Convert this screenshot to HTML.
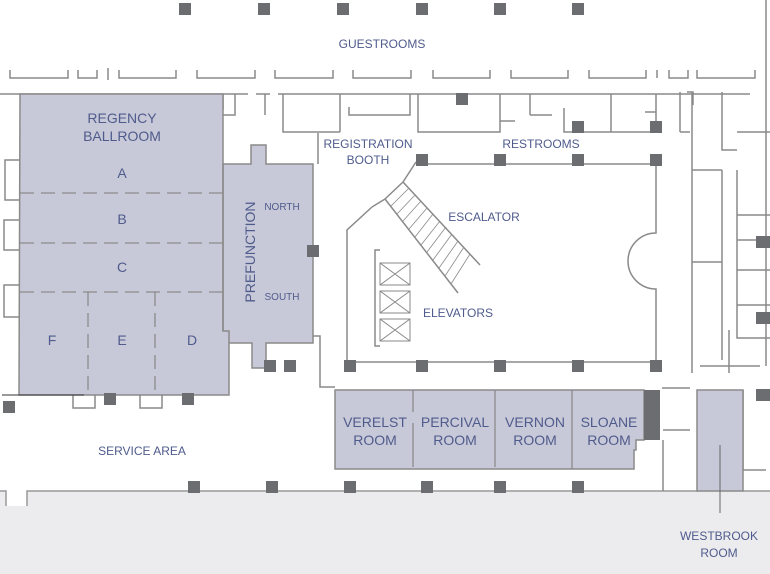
<!DOCTYPE html>
<html><head><style>
html,body{margin:0;padding:0;background:#fff;}
svg{display:block;}
text{font-family:"Liberation Sans",sans-serif;fill:#4f5b8c;}
</style></head><body>
<svg width="770" height="574" viewBox="0 0 770 574" xmlns="http://www.w3.org/2000/svg">
<path d="M0,491 H6 V506 H27 V491 H770 V574 H0 Z" fill="#ececee"/>
<path d="M0,491 H6 V506 M27,506 V491 H698 M743,491 H770" fill="none" stroke="#999" stroke-width="1.5"/>
<g fill="none" stroke="#8a8a8a" stroke-width="1.5">
<path d="M10,70 V78 H68 V70 M78,70 V78 H97 V70 M108,68 V80 M119,70 V78 H176 V70 M197,70 V78 H255 V70 M275,70 V78 H333 V70 M353,70 V78 H411 V70 M433,70 V78 H490 V70 M511,70 V78 H568 V70 M589,70 V78 H646 V70 M657,70 V78 M669,70 V78 H688 V70 M697,70 V78 H755 V70"/>
<path d="M0,94 H248 M256,94 H270 M278,94 H750"/>
<path d="M223,94 V110 M235,94 V115 H223 M265,94 V115 M283,94 V132 H340 M340,94 V132 M349,107 V115 H410 V94"/>
<path d="M418,94 V132 H500 V94 M500,100 V132 M500,121 H515 M530,94 V115 M530,115 H552 M564,108 V132 H656 V94 M611,94 V132 M645,112 H656"/>
<path d="M680,92 V132 M680,132 H690 M687,92 H693 V105 M692,92 V132 M722,92 V150 H737 M737,132 H770 M692,132 V200 M692,170 V366 M692,170 H722 V170 M722,170 V360 M692,262 H722 M722,200 V235 M737,170 V330 M737,215 H770 M737,240 H770 M737,270 H770 M737,305 H770 M737,330 V338 H770 M700,366 H760 M766,0 V366 M692,330 V373 M729,330 V373"/>
<path d="M318,133 V164 M256,160 V164"/>
<path d="M420,164 H656 V233 A28,28 0 0 0 656,289 V362 H347 V230 L372,207 M416,162 L403,182 M313,336 H320 V387 H335"/>
<path d="M656,362 V366"/>
<path d="M403,182 L480,265 M372,207 L385,199 M385,199 L458,293 M403,182 L385,199"/>
<g stroke-width="0.8">
<path d="M409,188 L391,206 M415,195 L397,214 M421,201 L403,221 M427,208 L409,229 M433,214 L415,237 M440,221 L421,245 M446,227 L427,252 M452,234 L433,260 M458,241 L439,268 M464,247 L445,276 M470,254 L451,284"/>
</g>
<path d="M380,250 H375 V346 H380"/>
<g stroke-width="1">
<rect x="380" y="263" width="30" height="22"/><path d="M380,263 L410,285 M410,263 L380,285"/>
<rect x="380" y="291" width="30" height="22"/><path d="M380,291 L410,313 M410,291 L380,313"/>
<rect x="380" y="319" width="30" height="22"/><path d="M380,319 L410,341 M410,319 L380,341"/>
</g>
<path d="M20,160 H5 V200 H20 M20,220 H4 V250 H20 M20,285 H4 V317 H20"/>
<path d="M73,395 V408 H95 V395 M140,395 V408 H162 V395"/>
<path d="M662,388 H690 M663,430 H690 M663,440 V491 M743,390 V470 H766"/>
</g>
<path d="M20,94 H223 V331 H229 V343 H252 V368 H266 V343 H313 V164 H266 V145 H251 V164 H223 V331 H229 V395 H19 Z" fill="#c8c9d8" stroke="#8a8a8a" stroke-width="1.5"/>
<path d="M223,164 V331" stroke="#8a8a8a" stroke-width="1.5"/>
<g stroke="#8a8a8a" stroke-width="1.3" stroke-dasharray="14,7" fill="none">
<path d="M20,193 H223 M20,243 H223 M20,292 H223 M88,292 V395 M155,292 V395"/>
</g>
<path d="M2,395 H84" stroke="#333" stroke-width="1"/>
<path d="M335,390 H644 V440 H636 V450 H634 V469 H335 Z" fill="#c8c9d8" stroke="#8a8a8a" stroke-width="1.5"/>
<path d="M413,390 V412 M413,423 V467 M495,390 V467 M572,390 V469" stroke="#8a8a8a" stroke-width="1.3"/>
<rect x="697" y="390" width="46" height="101" fill="#c8c9d8" stroke="#8a8a8a" stroke-width="1.5"/>
<path d="M720,445 V513" stroke="#666" stroke-width="1"/>
<g fill="#6b6d70">
<rect x="644" y="390" width="16" height="50"/>
<rect x="179" y="3" width="12" height="12"/><rect x="258" y="3" width="12" height="12"/><rect x="337" y="3" width="12" height="12"/><rect x="416" y="3" width="12" height="12"/><rect x="494" y="3" width="12" height="12"/><rect x="572" y="3" width="12" height="12"/>
<rect x="456" y="93" width="12" height="12"/><rect x="572" y="121" width="12" height="12"/><rect x="650" y="121" width="12" height="12"/>
<rect x="416" y="154" width="12" height="12"/><rect x="494" y="154" width="12" height="12"/><rect x="572" y="154" width="12" height="12"/><rect x="650" y="154" width="12" height="12"/>
<rect x="307" y="245" width="12" height="12"/>
<rect x="264" y="360" width="12" height="12"/><rect x="284" y="360" width="12" height="12"/><rect x="344" y="360" width="12" height="12"/>
<rect x="416" y="360" width="12" height="12"/><rect x="494" y="360" width="12" height="12"/><rect x="572" y="360" width="12" height="12"/><rect x="650" y="360" width="12" height="12"/>
<rect x="3" y="401" width="12" height="12"/><rect x="104" y="393" width="12" height="12"/><rect x="182" y="393" width="12" height="12"/>
<rect x="188" y="481" width="12" height="12"/><rect x="266" y="481" width="12" height="12"/><rect x="344" y="481" width="12" height="12"/><rect x="421" y="481" width="12" height="12"/><rect x="494" y="481" width="12" height="12"/><rect x="572" y="481" width="12" height="12"/>
<rect x="756" y="236" width="14" height="12"/><rect x="756" y="312" width="14" height="12"/><rect x="756" y="389" width="14" height="12"/>
</g>
<g font-size="12" text-anchor="middle">
<text x="382" y="48">GUESTROOMS</text>
<text x="368" y="148">REGISTRATION</text>
<text x="368" y="164">BOOTH</text>
<text x="541" y="148">RESTROOMS</text>
<text x="484" y="221">ESCALATOR</text>
<text x="458" y="317">ELEVATORS</text>
<text x="142" y="455">SERVICE AREA</text>
<text x="719" y="540">WESTBROOK</text>
<text x="719" y="557">ROOM</text>
</g>
<g font-size="14" text-anchor="middle">
<text x="122" y="123">REGENCY</text>
<text x="122" y="141">BALLROOM</text>
<text x="122" y="178">A</text>
<text x="122" y="224">B</text>
<text x="122" y="272">C</text>
<text x="52" y="345">F</text>
<text x="122" y="345">E</text>
<text x="192" y="345">D</text>
<text x="375" y="427">VERELST</text><text x="375" y="445">ROOM</text>
<text x="455" y="427">PERCIVAL</text><text x="455" y="445">ROOM</text>
<text x="535" y="427">VERNON</text><text x="535" y="445">ROOM</text>
<text x="609" y="427">SLOANE</text><text x="609" y="445">ROOM</text>
<text x="0" y="0" transform="translate(255,252) rotate(-90)">PREFUNCTION</text>
</g>
<g font-size="10" text-anchor="middle">
<text x="282" y="210">NORTH</text>
<text x="282" y="300">SOUTH</text>
</g>
</svg>
</body></html>
